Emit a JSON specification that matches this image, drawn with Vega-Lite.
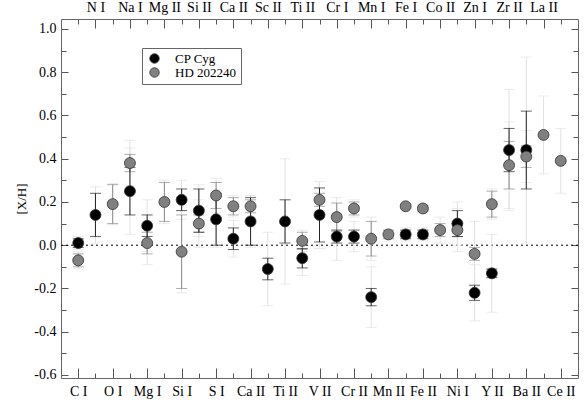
{
  "$schema": "https://vega.github.io/schema/vega-lite/v6.json",
  "width": 517,
  "height": 359,
  "autosize": {"type": "none"},
  "padding": {"left": 61, "top": 19, "right": 9, "bottom": 27},
  "background": "white",
  "config": {
    "view": {"stroke": null},
    "axis": {"grid": false, "domainColor": "#666", "tickColor": "#555", "labelFont": "Liberation Serif", "labelFontSize": 14, "labelColor": "#000", "titleFont": "Liberation Serif", "titleFontWeight": "normal", "titleFontSize": 13, "titleColor": "#000", "labelFlush": false, "labelOverlap": false}
  },
  "data": {
    "values": [
      {"idx": 1, "el": "C I", "star": "CP Cyg", "v": 0.01, "e1": 0.02, "e2": 0.03},
      {"idx": 2, "el": "N I", "star": "CP Cyg", "v": 0.14, "e1": 0.10, "e2": 0.13},
      {"idx": 4, "el": "Na I", "star": "CP Cyg", "v": 0.25, "e1": 0.11, "e2": 0.20},
      {"idx": 5, "el": "Mg I", "star": "CP Cyg", "v": 0.09, "e1": 0.05, "e2": 0.12},
      {"idx": 7, "el": "Si I", "star": "CP Cyg", "v": 0.21, "e1": 0.05, "e2": 0.09},
      {"idx": 8, "el": "Si II", "star": "CP Cyg", "v": 0.16, "e1": 0.10, "e2": 0.12},
      {"idx": 9, "el": "S I", "star": "CP Cyg", "v": 0.12, "e1": 0.12, "e2": 0.13},
      {"idx": 10, "el": "Ca II", "star": "CP Cyg", "v": 0.03, "e1": 0.05, "e2": 0.085},
      {"idx": 11, "el": "Ca II", "star": "CP Cyg", "v": 0.11, "e1": 0.11, "e2": 0.12},
      {"idx": 12, "el": "Sc II", "star": "CP Cyg", "v": -0.11, "e1": 0.05, "e2": 0.17},
      {"idx": 13, "el": "Ti II", "star": "CP Cyg", "v": 0.11, "e1": 0.10, "e2": 0.29},
      {"idx": 14, "el": "Ti II", "star": "CP Cyg", "v": -0.06, "e1": 0.045, "e2": 0.08},
      {"idx": 15, "el": "V II", "star": "CP Cyg", "v": 0.14, "e1": 0.125, "e2": 0.155},
      {"idx": 16, "el": "Cr I", "star": "CP Cyg", "v": 0.04, "e1": 0.03, "e2": 0.11},
      {"idx": 17, "el": "Cr II", "star": "CP Cyg", "v": 0.04, "e1": 0.03, "e2": 0.07},
      {"idx": 18, "el": "Mn I", "star": "CP Cyg", "v": -0.24, "e1": 0.04, "e2": 0.14},
      {"idx": 20, "el": "Fe I", "star": "CP Cyg", "v": 0.05, "e1": 0.02, "e2": 0.03},
      {"idx": 21, "el": "Fe II", "star": "CP Cyg", "v": 0.05, "e1": 0.02, "e2": 0.03},
      {"idx": 23, "el": "Ni I", "star": "CP Cyg", "v": 0.10, "e1": 0.06, "e2": 0.10},
      {"idx": 24, "el": "Zn I", "star": "CP Cyg", "v": -0.22, "e1": 0.035, "e2": 0.13},
      {"idx": 25, "el": "Y II", "star": "CP Cyg", "v": -0.13, "e1": 0.02, "e2": 0.18},
      {"idx": 26, "el": "Zr II", "star": "CP Cyg", "v": 0.44, "e1": 0.10, "e2": 0.28},
      {"idx": 27, "el": "Ba II", "star": "CP Cyg", "v": 0.44, "e1": 0.18, "e2": 0.43},
      {"idx": 1, "el": "C I", "star": "HD 202240", "v": -0.07, "e1": 0.03, "e2": 0.04},
      {"idx": 3, "el": "O I", "star": "HD 202240", "v": 0.19, "e1": 0.09, "e2": 0.095},
      {"idx": 4, "el": "Na I", "star": "HD 202240", "v": 0.38, "e1": 0.04, "e2": 0.105},
      {"idx": 5, "el": "Mg I", "star": "HD 202240", "v": 0.01, "e1": 0.05, "e2": 0.10},
      {"idx": 6, "el": "Mg II", "star": "HD 202240", "v": 0.20, "e1": 0.09, "e2": 0.10},
      {"idx": 7, "el": "Si I", "star": "HD 202240", "v": -0.03, "e1": 0.17, "e2": 0.19},
      {"idx": 8, "el": "Si II", "star": "HD 202240", "v": 0.10, "e1": 0.04, "e2": 0.11},
      {"idx": 9, "el": "S I", "star": "HD 202240", "v": 0.23, "e1": 0.06, "e2": 0.08},
      {"idx": 10, "el": "Ca II", "star": "HD 202240", "v": 0.18, "e1": 0.04, "e2": 0.05},
      {"idx": 11, "el": "Ca II", "star": "HD 202240", "v": 0.18, "e1": 0.03, "e2": 0.05},
      {"idx": 14, "el": "Ti II", "star": "HD 202240", "v": 0.02, "e1": 0.04, "e2": 0.05},
      {"idx": 15, "el": "V II", "star": "HD 202240", "v": 0.21, "e1": 0.03, "e2": 0.05},
      {"idx": 16, "el": "Cr I", "star": "HD 202240", "v": 0.13, "e1": 0.065, "e2": 0.09},
      {"idx": 17, "el": "Cr II", "star": "HD 202240", "v": 0.17, "e1": 0.03, "e2": 0.04},
      {"idx": 18, "el": "Mn I", "star": "HD 202240", "v": 0.03, "e1": 0.08, "e2": 0.10},
      {"idx": 19, "el": "Mn II", "star": "HD 202240", "v": 0.05, "e1": 0.02, "e2": 0.02},
      {"idx": 20, "el": "Fe I", "star": "HD 202240", "v": 0.18, "e1": 0.01, "e2": 0.01},
      {"idx": 21, "el": "Fe II", "star": "HD 202240", "v": 0.17, "e1": 0.015, "e2": 0.02},
      {"idx": 22, "el": "Co II", "star": "HD 202240", "v": 0.07, "e1": 0.03, "e2": 0.06},
      {"idx": 23, "el": "Ni I", "star": "HD 202240", "v": 0.07, "e1": 0.03, "e2": 0.10},
      {"idx": 24, "el": "Zn I", "star": "HD 202240", "v": -0.04, "e1": 0.03, "e2": 0.15},
      {"idx": 25, "el": "Y II", "star": "HD 202240", "v": 0.19, "e1": 0.06, "e2": 0.07},
      {"idx": 26, "el": "Zr II", "star": "HD 202240", "v": 0.37, "e1": 0.11, "e2": 0.20},
      {"idx": 27, "el": "Ba II", "star": "HD 202240", "v": 0.41, "e1": 0.05, "e2": 0.12},
      {"idx": 28, "el": "La II", "star": "HD 202240", "v": 0.51, "e1": null, "e2": 0.18},
      {"idx": 29, "el": "Ce II", "star": "HD 202240", "v": 0.39, "e1": null, "e2": 0.15}
    ]
  },
  "layer": [
    {
      "mark": {"type": "point", "opacity": 0},
      "encoding": {
        "x": {"field": "idx", "type": "quantitative", "scale": {"domain": [0, 30], "nice": false, "zero": false},
          "axis": {"orient": "bottom", "title": null, "values": [1,2,3,4,5,6,7,8,9,10,11,12,13,14,15,16,17,18,19,20,21,22,23,24,25,26,27,28,29],
            "labelExpr": "datum.value % 2 == 1 ? ['C I','N I','O I','Na I','Mg I','Mg II','Si I','Si II','S I','Ca II','Ca II','Sc II','Ti II','Ti II','V II','Cr I','Cr II','Mn I','Mn II','Fe I','Fe II','Co II','Ni I','Zn I','Y II','Zr II','Ba II','La II','Ce II'][datum.value-1] : ''",
            "tickSize": {"condition": {"test": "datum.value % 2 == 1", "value": -10}, "value": -5},
            "labelPadding": 16}},
        "y": {"field": "v", "type": "quantitative", "scale": {"domain": [-0.614, 1.046], "nice": false, "zero": false},
          "axis": {"orient": "left", "title": "[X/H]", "values": [-0.6,-0.5,-0.4,-0.3,-0.2,-0.1,0,0.1,0.2,0.3,0.4,0.5,0.6,0.7,0.8,0.9,1.0],
            "labelExpr": "abs(round(datum.value*10)) % 2 == 0 ? replace(format(datum.value, '.1f'), '−', '-') : ''",
            "tickSize": {"condition": {"test": "abs(round(datum.value*10)) % 2 == 0", "value": -7}, "value": -5},
            "labelPadding": 12, "titlePadding": 5}}
      }
    },
    {
      "mark": {"type": "point", "opacity": 0},
      "encoding": {
        "x": {"field": "idx", "type": "quantitative", "scale": {"domain": [0, 30], "nice": false, "zero": false},
          "axis": {"orient": "top", "title": null, "values": [1,2,3,4,5,6,7,8,9,10,11,12,13,14,15,16,17,18,19,20,21,22,23,24,25,26,27,28,29],
            "labelExpr": "datum.value % 2 == 0 ? ['C I','N I','O I','Na I','Mg I','Mg II','Si I','Si II','S I','Ca II','Ca II','Sc II','Ti II','Ti II','V II','Cr I','Cr II','Mn I','Mn II','Fe I','Fe II','Co II','Ni I','Zn I','Y II','Zr II','Ba II','La II','Ce II'][datum.value-1] : ''",
            "tickSize": {"condition": {"test": "datum.value % 2 == 0", "value": -9}, "value": -5},
            "labelPadding": 14}},
        "y": {"field": "v", "type": "quantitative", "scale": {"domain": [-0.614, 1.046], "nice": false, "zero": false},
          "axis": {"orient": "right", "title": null, "values": [-0.6,-0.5,-0.4,-0.3,-0.2,-0.1,0,0.1,0.2,0.3,0.4,0.5,0.6,0.7,0.8,0.9,1.0],
            "labels": false,
            "tickSize": {"condition": {"test": "abs(round(datum.value*10)) % 2 == 0", "value": -7}, "value": -5}}}
      }
    },
    {
      "data": {"values": [{"z": 0}]},
      "mark": {"type": "rule", "strokeDash": [2, 3], "color": "#000", "strokeWidth": 1},
      "encoding": {"y": {"field": "z", "type": "quantitative", "axis": null}}
    },
    {
      "transform": [{"filter": "isValid(datum.e2)"}],
      "mark": {"type": "errorbar", "ticks": {"size": 11}, "color": "#e2e2e2", "thickness": 1},
      "encoding": {
        "x": {"field": "idx", "type": "quantitative", "axis": null},
        "y": {"field": "v", "type": "quantitative", "axis": null},
        "yError": {"field": "e2"}
      }
    },
    {
      "transform": [{"filter": "isValid(datum.e1) && datum.star == 'HD 202240'"}],
      "mark": {"type": "errorbar", "ticks": {"size": 11}, "color": "#8a8a8a", "thickness": 1},
      "encoding": {
        "x": {"field": "idx", "type": "quantitative", "axis": null},
        "y": {"field": "v", "type": "quantitative", "axis": null},
        "yError": {"field": "e1"}
      }
    },
    {
      "transform": [{"filter": "isValid(datum.e1) && datum.star == 'CP Cyg'"}],
      "mark": {"type": "errorbar", "ticks": {"size": 11}, "color": "#222222", "thickness": 1},
      "encoding": {
        "x": {"field": "idx", "type": "quantitative", "axis": null},
        "y": {"field": "v", "type": "quantitative", "axis": null},
        "yError": {"field": "e1"}
      }
    },
    {
      "mark": {"type": "point", "filled": true, "shape": "circle", "size": 120, "stroke": "#333", "strokeWidth": 0.8, "opacity": 1},
      "encoding": {
        "x": {"field": "idx", "type": "quantitative", "axis": null},
        "y": {"field": "v", "type": "quantitative", "axis": null},
        "color": {"field": "star", "type": "nominal", "scale": {"domain": ["CP Cyg", "HD 202240"], "range": ["#000000", "#808080"]},
          "legend": {"orient": "none", "legendX": 81, "legendY": 29, "title": null, "strokeColor": "#666", "fillColor": "white", "padding": 4,
            "symbolSize": 90, "symbolType": "circle", "symbolStrokeColor": "#333", "symbolStrokeWidth": 0.8,
            "labelFont": "Liberation Serif", "labelFontSize": 13, "labelColor": "#000", "labelOffset": 14, "rowPadding": 0, "symbolOffset": 2}}
      }
    }
  ],
  "resolve": {"axis": {"x": "independent", "y": "independent"}}
}
